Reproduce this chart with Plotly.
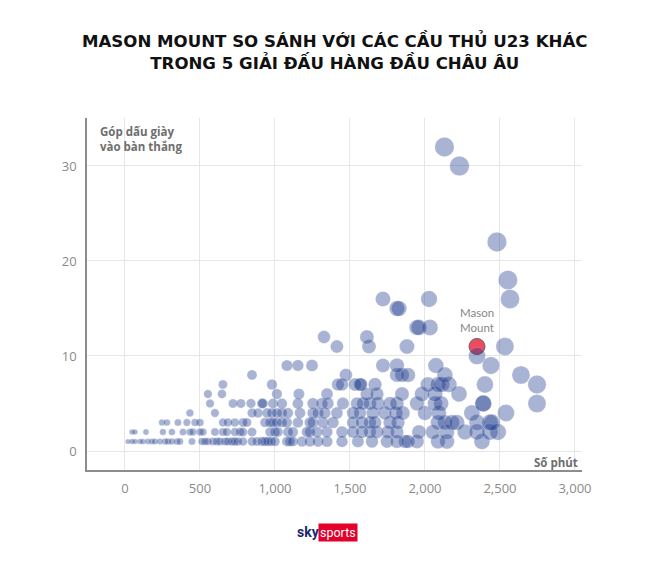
import plotly.graph_objects as go

# Minutes played per player, grouped by goal contributions (y value)
rows = {
    1: [20, 47, 67, 100, 120, 153, 180, 200, 233, 267, 287, 313, 347, 367, 447, 513, 533, 553, 587, 613,
        633, 667, 687, 713, 733, 753, 787, 847, 880, 913, 933, 953, 975, 1000, 1080, 1100, 1120, 1180,
        1233, 1287, 1347, 1447, 1553, 1647, 1747, 1813, 1867, 1887, 1947, 2087, 2147, 2380],
    2: [47, 67, 140, 253, 313, 387, 433, 453, 500, 520, 600, 653, 680, 733, 767, 787, 847, 967, 1000,
        1020, 1087, 1120, 1213, 1233, 1280, 1347, 1447, 1520, 1580, 1633, 1680, 1753, 1813, 1960, 2053,
        2147, 2267, 2347, 2433, 2487],
    3: [247, 280, 353, 413, 467, 500, 653, 687, 733, 787, 813, 933, 967, 987, 1013, 1047, 1080, 1153,
        1233, 1253, 1320, 1387, 1520, 1580, 1633, 1667, 1767, 1820, 2087, 2133, 2180, 2213, 2347, 2433, 2447],
    4: [433, 600, 847, 887, 947, 980, 1013, 1047, 1087, 1167, 1253, 1287, 1333, 1413, 1520, 1567, 1653,
        1733, 1807, 1853, 2000, 2093, 2313, 2540],
    5: [567, 720, 773, 840, 913, 920, 987, 1047, 1153, 1253, 1313, 1353, 1453, 1547, 1587, 1633, 1687,
        1767, 1813, 1947, 2067, 2107, 2387, 2390, 2747],
    6: [553, 647, 1013, 1160, 1347, 1613, 1680, 1847, 1980, 2067, 2227],
    7: [653, 980, 1420, 1447, 1533, 1567, 1573, 1667, 2020, 2087, 2113, 2160, 2400, 2747],
    8: [847, 1473, 1813, 1847, 1887, 2133, 2640],
    9: [1080, 1153, 1247, 1720, 1813, 2073, 2440],
    10: [2347],
    11: [1413, 1627, 1880, 2533],
    12: [1327, 1613],
    13: [1947, 1960, 2033],
    15: [1813, 1827],
    16: [1720, 2027, 2567],
    18: [2553],
    22: [2480],
    30: [2230],
    32: [2130],
}
minutes = [m for g, ms in rows.items() for m in ms]
contrib = [g for g, ms in rows.items() for m in ms]

mount_minutes = [2347]
mount_contrib = [11]

x_ticks = [0, 500, 1000, 1500, 2000, 2500, 3000]
x_tick_labels = ["0", "500", "1,000", "1,500", "2,000", "2,500", "3,000"]
y_ticks = [0, 10, 20, 30]


def size_of(m, g):
    return 5 + 0.0045 * m + 0.15 * g


fig = go.Figure()
fig.add_trace(go.Scatter(
    x=mount_minutes, y=mount_contrib, mode="markers",
    marker=dict(size=[16 for _ in mount_minutes], color="#e8001c",
                line=dict(color="#222222", width=1)),
    hoverinfo="skip", showlegend=False))
fig.add_trace(go.Scatter(
    x=minutes, y=contrib, mode="markers",
    marker=dict(size=[size_of(m, g) for m, g in zip(minutes, contrib)],
                color="rgba(22,52,138,0.52)",
                line=dict(color="rgba(255,255,255,0.35)", width=0.6)),
    hoverinfo="skip", showlegend=False))

axis_font = dict(family="Open Sans, Lato, sans-serif", size=13, color="#8a8a8a")
fig.update_xaxes(range=[-253, 3047], tickvals=x_ticks, ticktext=x_tick_labels,
                 showgrid=True, gridcolor="#e6e6e6", gridwidth=1, zeroline=False,
                 showline=True, linecolor="#8c8c8c", linewidth=1.5,
                 ticks="", tickfont=axis_font, ticklabelstandoff=6)
fig.update_yaxes(range=[-2, 35.05], tickvals=y_ticks,
                 showgrid=True, gridcolor="#e6e6e6", gridwidth=1, zeroline=False,
                 showline=True, linecolor="#8c8c8c", linewidth=1.5,
                 ticks="", tickfont=axis_font, ticklabelstandoff=6)

fig.add_annotation(x=-180, y=34.6, xref="x", yref="y", xanchor="left", yanchor="top",
                   text="<b>Góp dấu giày<br>vào bàn thắng</b>", showarrow=False, align="left",
                   font=dict(family="Open Sans, sans-serif", size=11.5, color="#6e6e6e"))
fig.add_annotation(x=3035, y=-0.2, xref="x", yref="y", xanchor="right", yanchor="top",
                   text="<b>Số phút</b>", showarrow=False,
                   font=dict(family="Open Sans, sans-serif", size=11.5, color="#6e6e6e"))
fig.add_annotation(x=2347, y=12.1, xref="x", yref="y", xanchor="center", yanchor="bottom",
                   text="Mason<br>Mount", showarrow=False, align="left",
                   font=dict(family="Lato, sans-serif", size=11.5, color="#888888"))

fig.add_annotation(x=0.5, y=1, xref="paper", yref="paper", yanchor="bottom", yshift=43,
                   text="<b>MASON MOUNT SO SÁNH VỚI CÁC CẦU THỦ U23 KHÁC<br>TRONG 5 GIẢI ĐẤU HÀNG ĐẦU CHÂU ÂU</b>",
                   showarrow=False, align="center",
                   font=dict(family="DejaVu Sans, Verdana, sans-serif", size=16.6, color="#111111"))

fig.update_layout(
    width=660, height=573,
    margin=dict(l=87, r=78, t=118, b=103),
    paper_bgcolor="white", plot_bgcolor="white",
)
fig.add_annotation(xref="paper", yref="paper", x=(308 - 87) / 495, y=(470 - 532) / 352,
                   xanchor="center", yanchor="middle",
                   text="<b>sky</b>", showarrow=False,
                   font=dict(family="Roboto, sans-serif", size=14, color="#1a2a6c"))
fig.add_annotation(xref="paper", yref="paper", x=(338 - 87) / 495, y=(470 - 532) / 352,
                   xanchor="center", yanchor="middle",
                   text="sports", showarrow=False, bgcolor="#e4002b", borderpad=1,
                   font=dict(family="Roboto, sans-serif", size=12.5, color="white"))

fig.write_html("out.html")
